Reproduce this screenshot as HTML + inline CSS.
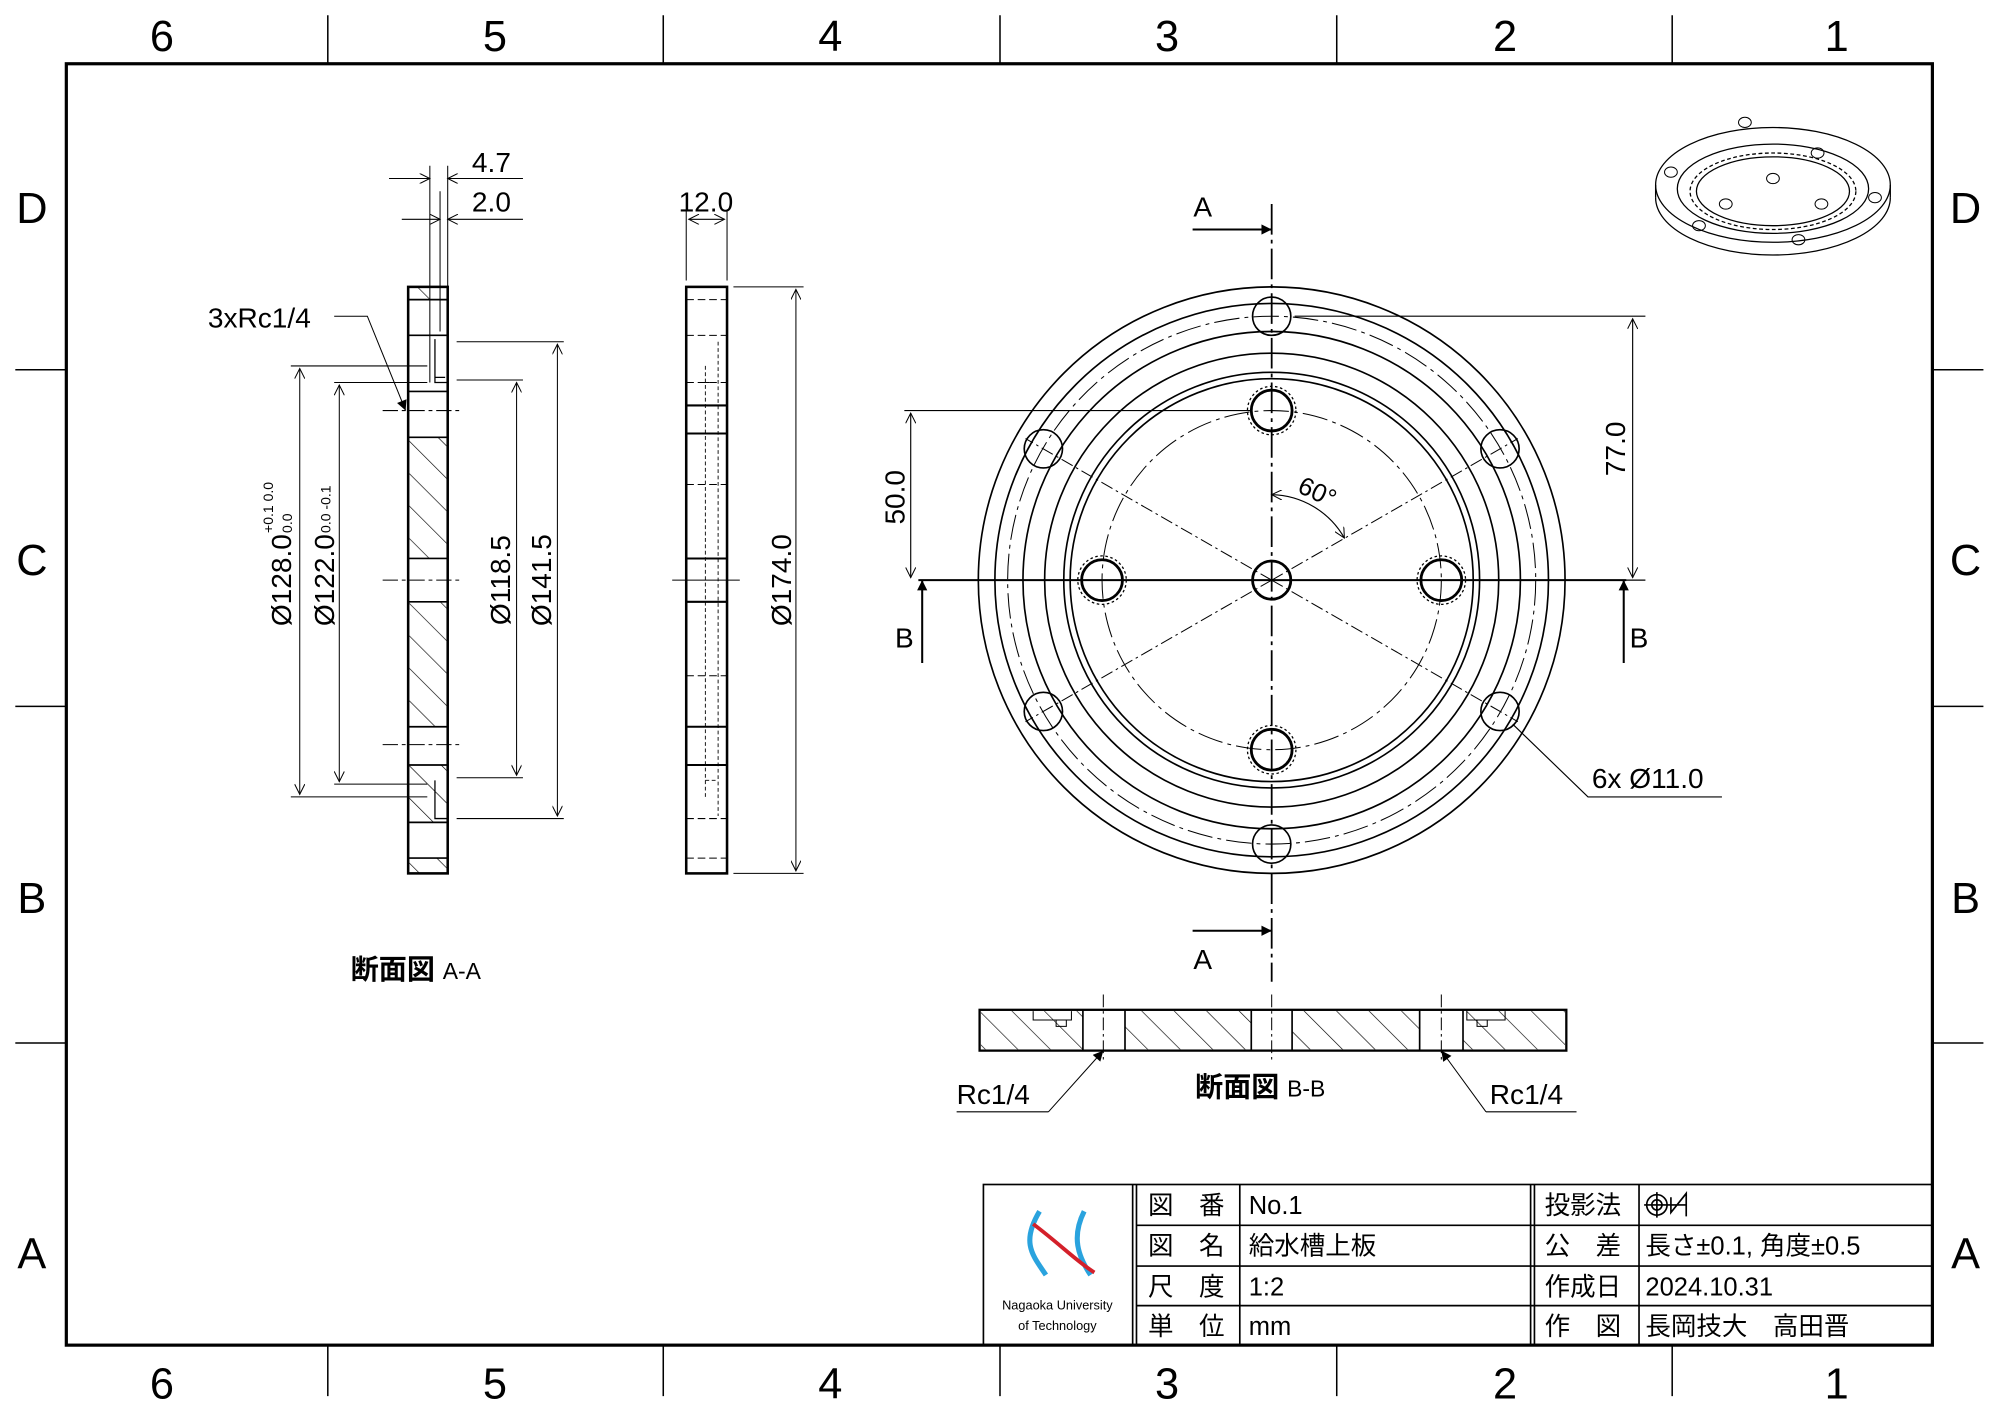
<!DOCTYPE html>
<html><head><meta charset="utf-8"><style>
html,body{margin:0;padding:0;background:#fff}
svg{display:block}
text{font-family:"Liberation Sans","Noto Sans CJK JP",sans-serif;fill:#000}
</style></head><body>
<svg width="2000" height="1414" viewBox="0 0 1568 1109" preserveAspectRatio="none" xmlns="http://www.w3.org/2000/svg">
<defs>
<marker id="ar" viewBox="0 0 10 10" refX="10" refY="5" markerWidth="10" markerHeight="8" orient="auto-start-reverse" markerUnits="userSpaceOnUse"><path d="M0,0 L10,5 L0,10" fill="none" stroke="#000" stroke-width="1"/></marker>
<marker id="af" viewBox="0 0 10 10" refX="10" refY="5" markerWidth="14" markerHeight="8" orient="auto" markerUnits="userSpaceOnUse"><path d="M0,0 L10,5 L0,10z" fill="#000"/></marker>
<pattern id="h" width="18" height="18" patternUnits="userSpaceOnUse" patternTransform="rotate(-45)"><line x1="0" y1="0" x2="0" y2="18" stroke="#000" stroke-width="1"/></pattern>
</defs>
<rect x="0" y="0" width="1568" height="1109" fill="#fff"/>
<g stroke="#000" fill="none">
<rect x="52" y="50" width="1463" height="1005" stroke-width="2.5"/>
<g stroke-width="1.2">
<path d="M257 12V50M520 12V50M784 12V50M1048 12V50M1311 12V50"/>
<path d="M257 1055V1095M520 1055V1095M784 1055V1095M1048 1055V1095M1311 1055V1095"/>
<path d="M12 290H52M12 554H52M12 818H52M1515 290H1555M1515 554H1555M1515 818H1555"/>
</g>
</g>
<g font-size="34" text-anchor="middle">
<text x="127" y="40">6</text><text x="388" y="40">5</text><text x="651" y="40">4</text><text x="915" y="40">3</text><text x="1180" y="40">2</text><text x="1440" y="40">1</text>
<text x="127" y="1097">6</text><text x="388" y="1097">5</text><text x="651" y="1097">4</text><text x="915" y="1097">3</text><text x="1180" y="1097">2</text><text x="1440" y="1097">1</text>
<text x="25" y="175">D</text><text x="25" y="451">C</text><text x="25" y="716">B</text><text x="25" y="995">A</text>
<text x="1541" y="175">D</text><text x="1541" y="451">C</text><text x="1541" y="716">B</text><text x="1541" y="995">A</text>
</g>

<g stroke="#000" fill="none" stroke-width="1.3">
<circle cx="997" cy="455" r="230"/>
<circle cx="997" cy="455" r="217"/>
<circle cx="997" cy="455" r="195"/>
<circle cx="997" cy="455" r="178"/>
<circle cx="997" cy="455" r="163"/>
<circle cx="997" cy="455" r="158"/>
<circle cx="997" cy="455" r="207" stroke-width="0.8" stroke-dasharray="20 4 3 4"/>
<circle cx="997" cy="455" r="133" stroke-width="0.8" stroke-dasharray="20 4 3 4"/>
<g stroke-width="1.3">
<circle cx="997" cy="248" r="15"/><circle cx="1176" cy="352" r="15"/><circle cx="1176" cy="558" r="15"/>
<circle cx="997" cy="662" r="15"/><circle cx="818" cy="558" r="15"/><circle cx="818" cy="352" r="15"/>
</g>
<g stroke-width="2.2">
<circle cx="997" cy="322" r="16"/><circle cx="1130" cy="455" r="16"/><circle cx="997" cy="588" r="16"/><circle cx="864" cy="455" r="16"/><circle cx="997" cy="455" r="15"/>
</g>
<g stroke-width="1" stroke-dasharray="2 2">
<circle cx="997" cy="322" r="19"/><circle cx="1130" cy="455" r="19"/><circle cx="997" cy="588" r="19"/><circle cx="864" cy="455" r="19"/>
</g>
<g stroke-width="0.8">
<path d="M997 455L1190 344M997 455L1190 566M997 455L804 344M997 455L804 566" stroke-dasharray="10 3 2 3"/>
<path d="M997 160V770" stroke-width="1.4" stroke-dasharray="24 4 3 4"/>
<path d="M720 455H1275" stroke-width="1.6"/>
</g>
<g stroke-width="1.6">
<path d="M935 180H997" marker-end="url(#af)"/>
<path d="M935 730H997" marker-end="url(#af)"/>
<path d="M723 520V455" marker-end="url(#af)"/>
<path d="M1273 520V455" marker-end="url(#af)"/>
</g>
<g stroke-width="0.9">
<path d="M1015 248H1290M1015 455H1290"/>
<path d="M1280 250V453" marker-start="url(#ar)" marker-end="url(#ar)"/>
<path d="M709 322H980"/>
<path d="M714 324V453" marker-start="url(#ar)" marker-end="url(#ar)"/>
<path d="M997 388 A67 67 0 0 1 1054 422" marker-start="url(#ar)" marker-end="url(#ar)"/>
<path d="M1186 568L1245 625H1350"/>
</g>
</g>
<g font-size="22">
<text x="943" y="170" text-anchor="middle">A</text>
<text x="943" y="760" text-anchor="middle">A</text>
<text x="709" y="508" text-anchor="middle">B</text>
<text x="1285" y="508" text-anchor="middle">B</text>
<text transform="translate(1274,352) rotate(-90)" text-anchor="middle">77.0</text>
<text transform="translate(709,390) rotate(-90)" text-anchor="middle">50.0</text>
<text transform="translate(1030,392) rotate(25)" text-anchor="middle" font-size="20">60°</text>
<text x="1248" y="618">6x Ø11.0</text>
</g>

<g stroke="#000" fill="none" stroke-width="1.3">
<rect x="320" y="225" width="31" height="460" stroke-width="2"/>
<rect x="321" y="343" width="29" height="95" fill="url(#h)" stroke="none"/>
<rect x="321" y="472" width="29" height="98" fill="url(#h)" stroke="none"/>
<rect x="321" y="600" width="29" height="45" fill="url(#h)" stroke="none"/>
<rect x="321" y="225" width="29" height="10" fill="url(#h)" stroke="none"/>
<rect x="321" y="673" width="29" height="12" fill="url(#h)" stroke="none"/>
<path d="M320 235H351M320 263H351M320 307H351M320 343H351M320 438H351M320 472H351M320 570H351M320 600H351M320 645H351M320 673H351"/>
<path d="M300 322H362M300 455H362M300 584H362" stroke-width="0.8" stroke-dasharray="12 3 3 3"/>
<path d="M341 266V300H351M341 296H349M341 612V642H351" stroke-width="1"/>
<path d="M337 130V300M345 150V260M351 130V225" stroke-width="0.8"/>
<g stroke-width="0.8">
<path d="M305 140H337" marker-end="url(#ar)"/><path d="M410 140H351" marker-end="url(#ar)"/>
<path d="M315 172H345" marker-end="url(#ar)"/><path d="M410 172H351" marker-end="url(#ar)"/>
<path d="M262 248H288L318 322" marker-end="url(#af)"/>
<path d="M228 287H335M228 625H335M262 300H335M262 615H335M358 298H410M358 610H410M358 268H442M358 642H442"/>
<path d="M235 289V623" marker-start="url(#ar)" marker-end="url(#ar)"/>
<path d="M266 302V613" marker-start="url(#ar)" marker-end="url(#ar)"/>
<path d="M405 300V608" marker-start="url(#ar)" marker-end="url(#ar)"/>
<path d="M437 270V640" marker-start="url(#ar)" marker-end="url(#ar)"/>
</g>
</g>
<g font-size="22">
<text x="370" y="135">4.7</text><text x="370" y="166">2.0</text>
<text x="163" y="257">3xRc1/4</text>
<text transform="translate(228,455) rotate(-90)" text-anchor="middle">Ø128.0</text>
<text transform="translate(262,455) rotate(-90)" text-anchor="middle">Ø122.0</text>
<text transform="translate(400,455) rotate(-90)" text-anchor="middle">Ø118.5</text>
<text transform="translate(432,455) rotate(-90)" text-anchor="middle">Ø141.5</text>
<text transform="translate(620,455) rotate(-90)" text-anchor="middle">Ø174.0</text>
<text transform="translate(214,418) rotate(-90)" font-size="11">+0.1 0.0</text>
<text transform="translate(229,418) rotate(-90)" font-size="11">0.0</text>
<text transform="translate(259,418) rotate(-90)" font-size="11">0.0 -0.1</text>
<text x="532" y="166">12.0</text>
<text x="275" y="768" font-size="22" font-weight="bold">断面図 <tspan font-size="18" font-weight="normal">A-A</tspan></text>
</g>

<g stroke="#000" fill="none" stroke-width="1.3">
<rect x="538" y="225" width="32" height="460" stroke-width="2"/>
<path d="M538 318H570M538 340H570M538 438H570M538 472H570M538 570H570M538 600H570" stroke-width="1.6"/>
<path d="M538 235H570M538 263H570M538 300H570M538 380H570M538 530H570M538 642H570M538 673H570" stroke-width="0.8" stroke-dasharray="6 3"/>
<path d="M563 268V640M553 287V625M553 300H563M553 612H563" stroke-width="0.7" stroke-dasharray="3 2"/>
<path d="M527 455H580" stroke-width="0.8"/>
<path d="M538 165V220M570 165V220M575 225H630M575 685H630" stroke-width="0.8"/>
<path d="M540 172H568" stroke-width="0.8" marker-start="url(#ar)" marker-end="url(#ar)"/>
<path d="M624 227V683" stroke-width="0.8" marker-start="url(#ar)" marker-end="url(#ar)"/>
</g>

<g stroke="#000" fill="none" stroke-width="1.3">
<rect x="768" y="792" width="460" height="32" stroke-width="1.8"/>
<rect x="769" y="793" width="80" height="30" fill="url(#h)" stroke="none"/>
<rect x="882" y="793" width="99" height="30" fill="url(#h)" stroke="none"/>
<rect x="1013" y="793" width="100" height="30" fill="url(#h)" stroke="none"/>
<rect x="1147" y="793" width="80" height="30" fill="url(#h)" stroke="none"/>
<path d="M849 792V824M882 792V824M981 792V824M1013 792V824M1113 792V824M1147 792V824"/>
<path d="M810 793V800H840V793M828 800V805H836V800M1150 793V800H1180V793M1158 800V805H1166V800" stroke-width="0.8"/>
<path d="M865 780V834M997 780V834M1130 780V834" stroke-width="0.8" stroke-dasharray="10 3 2 3"/>
<path d="M822 872L865 824" stroke-width="0.8" marker-end="url(#af)"/>
<path d="M750 872H822M1165 872H1236" stroke-width="0.8"/>
<path d="M1165 872L1130 824" stroke-width="0.8" marker-end="url(#af)"/>
</g>
<g font-size="22">
<text x="750" y="866">Rc1/4</text><text x="1168" y="866">Rc1/4</text>
<text x="937" y="860" font-weight="bold">断面図 <tspan font-size="18" font-weight="normal">B-B</tspan></text>
</g>

<g stroke="#000" fill="none" stroke-width="1">
<ellipse cx="1390" cy="145" rx="92" ry="45"/>
<path d="M1298 145V155M1482 145V155"/>
<path d="M1298 155A92 45 0 0 0 1482 155"/>
<ellipse cx="1390" cy="148" rx="75" ry="35"/>
<ellipse cx="1390" cy="150" rx="65" ry="30" stroke-dasharray="3 2"/>
<ellipse cx="1390" cy="150" rx="60" ry="27"/>
<g stroke-width="0.8">
<ellipse cx="1310" cy="135" rx="5" ry="4"/><ellipse cx="1368" cy="96" rx="5" ry="4"/><ellipse cx="1425" cy="120" rx="5" ry="4"/>
<ellipse cx="1470" cy="155" rx="5" ry="4"/><ellipse cx="1410" cy="188" rx="5" ry="4"/><ellipse cx="1332" cy="177" rx="5" ry="4"/>
<ellipse cx="1390" cy="140" rx="5" ry="4"/><ellipse cx="1353" cy="160" rx="5" ry="4"/><ellipse cx="1428" cy="160" rx="5" ry="4"/>
</g>
</g>

<g stroke="#000" fill="none" stroke-width="1.3">
<rect x="771" y="929" width="744" height="126"/>
<path d="M888 929V1055M891 929V1055M972 929V1055M1200 929V1055M1203 929V1055M1285 929V1055"/>
<path d="M891 961H1515M891 993H1515M891 1024H1515"/>
<path d="M815 950C800 975 810 985 820 1000" stroke="#2aa3de" stroke-width="4"/>
<path d="M850 950C840 970 845 985 855 1000" stroke="#2aa3de" stroke-width="4"/>
<path d="M810 960C830 975 845 990 858 998" stroke="#d4202a" stroke-width="3"/>
<circle cx="1299" cy="945" r="8"/><circle cx="1299" cy="945" r="4"/><path d="M1289 945H1322M1299 935V955M1310 939V951L1322 936V954"/>
</g>
<g font-size="20">
<text x="829" y="1027" text-anchor="middle" font-size="10">Nagaoka University</text>
<text x="829" y="1043" text-anchor="middle" font-size="10">of Technology</text>
<text x="900" y="952">図　番</text><text x="979" y="952">No.1</text>
<text x="900" y="984">図　名</text><text x="979" y="984">給水槽上板</text>
<text x="900" y="1016">尺　度</text><text x="979" y="1016">1:2</text>
<text x="900" y="1047">単　位</text><text x="979" y="1047">mm</text>
<text x="1211" y="952">投影法</text>
<text x="1211" y="984">公　差</text><text x="1290" y="984">長さ±0.1, 角度±0.5</text>
<text x="1211" y="1016">作成日</text><text x="1290" y="1016">2024.10.31</text>
<text x="1211" y="1047">作　図</text><text x="1290" y="1047">長岡技大　高田晋</text>
</g>
</svg>
</body></html>
